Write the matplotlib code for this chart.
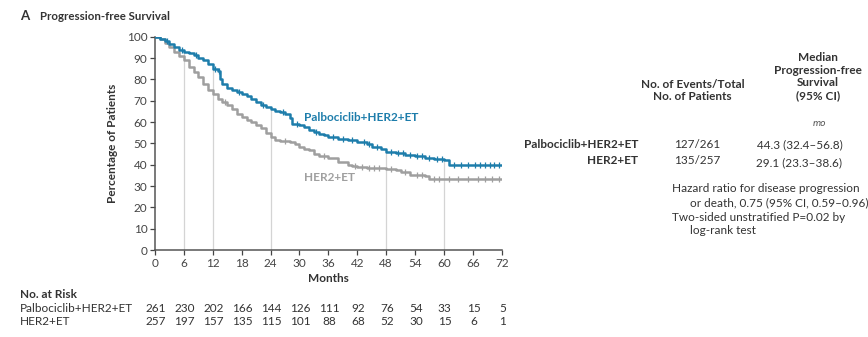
import numpy as np
import matplotlib.pyplot as plt

plt.rcParams['font.family'] = ['Lato', 'DejaVu Sans']

# Palbociclib+HER2+ET curve (months, % progression-free)
palbo_t = [0, 1, 2, 3, 4, 5, 6, 7, 8, 9, 10, 11, 12, 13, 13.5, 14, 15, 16, 17, 18, 19, 20,
           21, 22, 23, 24, 25, 26, 27, 28, 28.5, 30, 31, 32, 33, 34, 35, 36, 38, 40, 42, 44,
           45, 47, 48, 50, 52, 54, 56, 58, 60, 61, 72]
palbo_s = [100, 99, 98, 96.5, 95, 94, 93, 92.5, 91.5, 90, 89, 87, 85, 84, 80, 78, 76, 75, 74,
           73, 72, 71, 69.5, 68, 67, 66, 65, 64.5, 64, 62, 59, 58.5, 57.5, 56.5, 55.5, 54.5,
           54, 53, 52, 51.5, 50.5, 49.8, 48.5, 47.5, 46, 45.5, 44.5, 44, 43, 42.5, 42, 40, 40]
palbo_cens = [2.5, 5.5, 8.5, 12.5, 13.2, 17.5, 22.5, 26.5, 29.5, 33.5, 37, 39, 41, 43.5, 44.5,
              46, 49, 50.5, 51.5, 53, 54.5, 55.5, 57, 58.5, 59.5, 62, 63.5, 65, 66.5, 67.5,
              68.5, 69.5, 70.5, 71.5]

# HER2+ET curve
her2_t = [0, 1, 2, 3, 4, 5, 6, 7, 8, 9, 10, 11, 12, 13, 14, 15, 16, 17, 18, 19, 20, 21, 22,
          23, 24, 25, 26, 28, 29, 30, 31, 32, 33, 34, 36, 38, 40, 41, 42, 44, 47, 48, 50, 51,
          53, 56, 57, 72]
her2_s = [100, 99, 97, 95, 93, 91, 89, 86, 83.5, 81, 78, 75, 73, 71, 69.5, 68, 66, 64, 62.5,
          61, 60, 58.5, 57, 55, 53, 51.5, 51, 50.5, 49.5, 48.5, 47.5, 47, 45, 44, 43, 41.5,
          40, 39.5, 39, 38.5, 38.5, 38, 37.5, 36.5, 35, 34.5, 33.5, 33.5]
her2_cens = [14.5, 27, 35, 41.5, 43, 44.5, 45.5, 46.5, 49, 52, 54.5, 55.5, 58, 59, 61, 63,
             65, 67, 68.5, 70, 71.5]

grid_months = [6, 12, 24, 48, 60]
tick_months = list(range(0, 73, 6))

risk_palbo = [261, 230, 202, 166, 144, 126, 111, 92, 76, 54, 33, 15, 5]
risk_her2 = [257, 197, 157, 135, 115, 101, 88, 68, 52, 30, 15, 6, 1]

blue = '#1d7dab'
grey = '#9f9f9f'
txt = '#333333'
fs = 8.5


def step_at(t, s, x):
    idx = np.searchsorted(np.array(t), np.array(x), side='right') - 1
    return np.array(s)[idx]


fig = plt.figure(figsize=(8.68, 3.37), dpi=100)
ax = fig.add_axes([0.1786, 0.258, 0.3994, 0.633])

# vertical reference lines up to the upper curve
ax.vlines(grid_months, 0, step_at(palbo_t, palbo_s, grid_months), color='#d4d4d4', lw=0.9, zorder=1)

ax.plot(her2_t, her2_s, drawstyle='steps-post', color=grey, lw=1.8, zorder=2)
ax.plot(her2_cens, step_at(her2_t, her2_s, her2_cens), ls='none', marker='|', ms=4,
        mew=0.9, color=grey, zorder=3)
ax.plot(palbo_t, palbo_s, drawstyle='steps-post', color=blue, lw=1.8, zorder=4)
ax.plot(palbo_cens, step_at(palbo_t, palbo_s, palbo_cens), ls='none', marker='|', ms=4,
        mew=0.9, color=blue, zorder=5)

ax.set_xlim(0, 72)
ax.set_ylim(0, 100)
ax.set_xticks(tick_months)
ax.set_yticks(range(0, 101, 10))
for sp in ['top', 'right']:
    ax.spines[sp].set_visible(False)
for sp in ['left', 'bottom']:
    ax.spines[sp].set_color('#555555')
    ax.spines[sp].set_linewidth(1.1)
ax.tick_params(axis='both', labelsize=fs, colors='#444444', length=3.5, width=0.9, pad=2)
ax.set_xlabel('Months', fontsize=fs, fontweight='bold', color=txt, labelpad=3)
ax.set_ylabel('Percentage of Patients', fontsize=fs, fontweight='bold', color=txt, labelpad=6)

ax.text(31, 60.5, 'Palbociclib+HER2+ET', color=blue, fontsize=fs, fontweight='bold')
ax.text(31, 32.5, 'HER2+ET', color=grey, fontsize=fs, fontweight='bold')

fig.text(0.023, 0.952, 'A', fontsize=9.5, fontweight='bold', color=txt, va='center')
fig.text(0.046, 0.952, 'Progression-free Survival', fontsize=8.3, fontweight='bold',
         color=txt, va='center')

# number at risk
fig.text(0.023, 0.125, 'No. at Risk', fontsize=fs, fontweight='bold', color=txt, va='center')
fig.text(0.023, 0.086, 'Palbociclib+HER2+ET', fontsize=fs, color=txt, va='center')
fig.text(0.023, 0.047, 'HER2+ET', fontsize=fs, color=txt, va='center')
for m, a, b in zip(tick_months, risk_palbo, risk_her2):
    x = ax.transData.transform((m, 0))[0] / fig.bbox.width + 0.001
    fig.text(x, 0.086, str(a), fontsize=fs, color=txt, va='center', ha='center')
    fig.text(x, 0.047, str(b), fontsize=fs, color=txt, va='center', ha='center')

# summary table
fig.text(0.942, 0.773, 'Median\nProgression-free\nSurvival\n(95% CI)', fontsize=fs,
         fontweight='bold', color=txt, ha='center', va='center', linespacing=1.18)
fig.text(0.798, 0.731, 'No. of Events/Total\nNo. of Patients', fontsize=fs, fontweight='bold',
         color=txt, ha='center', va='center', linespacing=1.18)
fig.text(0.944, 0.635, 'mo', fontsize=7.5, style='italic', color='#555555', ha='center', va='center')
fig.text(0.735, 0.570, 'Palbociclib+HER2+ET', fontsize=fs, fontweight='bold', color=txt,
         ha='right', va='center')
fig.text(0.735, 0.525, 'HER2+ET', fontsize=fs, fontweight='bold', color=txt, ha='right', va='center')
fig.text(0.803, 0.570, '127/261', fontsize=fs, color=txt, ha='center', va='center')
fig.text(0.803, 0.525, '135/257', fontsize=fs, color=txt, ha='center', va='center')
fig.text(0.921, 0.570, '44.3 (32.4\u201356.8)', fontsize=fs, color=txt, ha='center', va='center')
fig.text(0.921, 0.516, '29.1 (23.3\u201338.6)', fontsize=fs, color=txt, ha='center', va='center')
fig.text(0.774, 0.442, 'Hazard ratio for disease progression', fontsize=fs, color=txt, va='center')
fig.text(0.795, 0.398, 'or death, 0.75 (95% CI, 0.59\u20130.96)', fontsize=fs, color=txt, va='center')
fig.text(0.774, 0.356, 'Two-sided unstratified P=0.02 by', fontsize=fs, color=txt, va='center')
fig.text(0.795, 0.316, 'log-rank test', fontsize=fs, color=txt, va='center')

fig.savefig('out.png', dpi=100)
